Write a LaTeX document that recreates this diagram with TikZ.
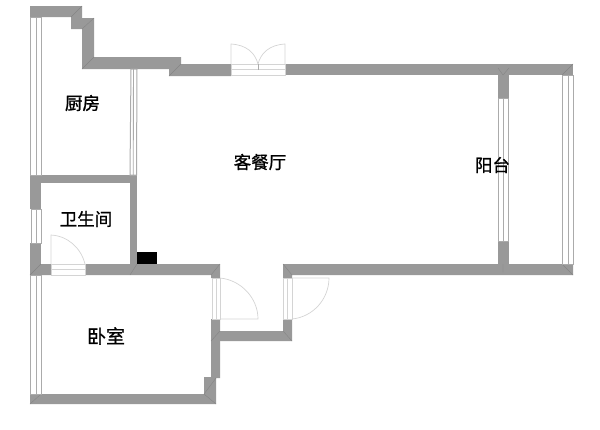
\documentclass[tikz,border=0pt]{standalone}
\usepackage{fontspec}
\newfontfamily\cjk[FakeBold=1.1]{Noto Sans CJK SC}
\definecolor{wallgray}{HTML}{999999}
\definecolor{seam}{HTML}{858585}
\definecolor{frameline}{HTML}{ABABAB}
\definecolor{swing}{HTML}{D4D4D4}
\tikzset{
  wall/.style={fill=wallgray,draw=none},
  seamline/.style={draw=seam,line width=0.4pt},
  winpane/.style={fill=white,draw=frameline,line width=1pt},
  winline/.style={draw=frameline,line width=0.9pt},
  doorswing/.style={draw=swing,line width=0.7pt},
  roomlabel/.style={font=\cjk\fontsize{17.5}{17.5}\selectfont,text=black,inner sep=0pt}
}
\begin{document}
\begin{tikzpicture}[x=1pt,y=-1pt]
\useasboundingbox (0,0) rectangle (600,429);
% walls
\fill[wall] (30,6)--(82,6)--(82,18)--(94,18)--(94,57)--(181,57)--(181,64)--(231,64)--(231,76)--(169,76)--(169,69)--(82,69)--(82,29)--(71,29)--(71,17)--(30,17)--cycle;
\fill[wall] (285,64)--(573,64)--(573,75)--(285,75)--cycle;
\fill[wall] (30,175)--(137,175)--(137,183)--(30,183)--cycle;
\fill[wall] (30,175)--(41,175)--(41,209)--(30,209)--cycle;
\fill[wall] (30,243)--(41,243)--(41,275)--(30,275)--cycle;
\fill[wall] (130,183)--(137,183)--(137,265)--(130,265)--cycle;
\fill[wall] (30,264)--(220,264)--(220,278)--(211,278)--(211,275)--(30,275)--cycle;
\fill[wall] (211,319)--(220,319)--(220,378)--(216,378)--(216,404)--(30,404)--(30,394)--(204,394)--(204,377)--(211,377)--cycle;
\fill[wall] (220,331)--(283,331)--(283,319)--(292,319)--(292,341)--(220,341)--cycle;
\fill[wall] (283,264)--(573,264)--(573,275)--(292,275)--(292,278)--(283,278)--cycle;
\fill[wall] (498,75)--(509,75)--(509,98)--(498,98)--cycle;
\fill[wall] (498,241)--(509,241)--(509,264)--(498,264)--cycle;
% corner seams
\draw[seamline] (82,6)--(71,17) (94,18)--(82,29) (94,57)--(82,69) (181,64)--(169,76);
\draw[seamline] (220,264)--(211,275) (283,264)--(292,275) (292,341)--(283,331) (211,341)--(220,331);
\draw[seamline] (216,378)--(204,394) (216,404)--(204,394) (30,404)--(41,394);
\draw[seamline] (503,75)--(498,68) (503,75)--(509,68) (503,264)--(503,272);
\draw[seamline] (573,64)--(562,75) (573,275)--(562,264) (30,275)--(41,264) (137,264)--(130,275);
% kitchen windows
\filldraw[winpane] (30.5,17)rectangle(41.5,175);
\draw[winline] (36,17)--(36,175);
\filldraw[winpane] (130,175)--(131,69)--(137,69)--(136.5,175)--cycle;
\draw[winline] (133.5,69)--(133.2,175);
% bathroom window
\filldraw[winpane] (31,209)rectangle(41,243);
\draw[winline] (36,209)--(36,243);
% bedroom window
\filldraw[winpane] (30.5,275)rectangle(41.5,394);
\draw[winline] (36,275)--(36,394);
% balcony windows
\filldraw[winpane] (498.5,98)rectangle(508.5,241);
\draw[winline] (503.5,98)--(503.5,241);
\filldraw[winpane] (562,75)rectangle(573,264);
\draw[winline] (568,75)--(568,264);
% entrance door (top double)
\filldraw[winpane,draw=swing] (231,64)rectangle(285,75.5);
\draw[winline,draw=swing] (231,69.5)--(285,69.5);
\draw[winline] (258,64)--(258,69.5);
\draw[doorswing] (231,64)--(231,44) .. controls (247,45) and (255,53) .. (258,64);
\draw[doorswing] (285,64)--(285,44) .. controls (269,45) and (261,53) .. (258,64);
% bathroom door
\filldraw[winpane,draw=swing] (51,264.5)rectangle(85.5,275);
\draw[winline,draw=swing] (51,269.5)--(85.5,269.5);
\draw[doorswing] (51,264)--(51,235) .. controls (68,236) and (81,248) .. (85,264);
% bedroom door
\filldraw[winpane,draw=swing] (212,278)rectangle(220,319);
\draw[winline,draw=swing] (216,278)--(216,319);
\draw[doorswing] (220,319)--(258,319) .. controls (258,298) and (241,280) .. (220,278);
% passage door
\filldraw[winpane,draw=swing] (283,278)rectangle(292,319);
\draw[winline,draw=swing] (287.5,278)--(287.5,319);
\draw[doorswing] (292,278)--(329,278) .. controls (329,299) and (313,317) .. (292,319);
% black block
\fill[black] (136.5,252) rectangle (157,264);
% labels
\node[roomlabel] (kitchen) at (82.5,103) {厨房};
\node[roomlabel] (bath) at (86,219) {卫生间};
\node[roomlabel] (living) at (260,162) {客餐厅};
\node[roomlabel] (balcony) at (492.5,165) {阳台};
\node[roomlabel,font=\cjk\fontsize{19}{19}\selectfont] (bedroom) at (106,336) {卧室};
\end{tikzpicture}
\end{document}
